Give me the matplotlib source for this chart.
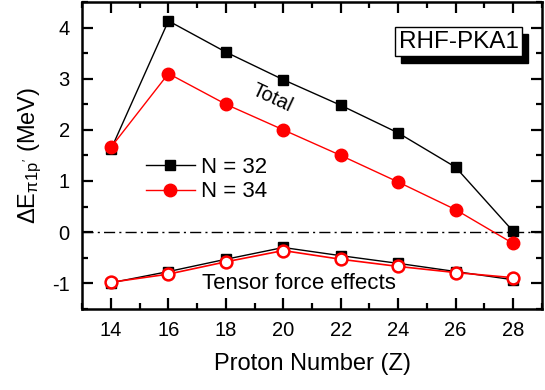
import numpy as np
import matplotlib.pyplot as plt
from matplotlib.ticker import MultipleLocator
from matplotlib.patches import Rectangle
from matplotlib.transforms import IdentityTransform

plt.rcParams['font.family'] = ['Liberation Sans', 'DejaVu Sans']
plt.rcParams['mathtext.fontset'] = 'custom'
plt.rcParams['mathtext.rm'] = 'Liberation Sans'
plt.rcParams['mathtext.it'] = 'Liberation Sans'
plt.rcParams['axes.unicode_minus'] = False

# данные
z = [14, 16, 18, 20, 22, 24, 26, 28]
total_n32 = [1.62, 4.13, 3.52, 2.98, 2.48, 1.94, 1.27, 0.02]
total_n34 = [1.66, 3.10, 2.50, 2.00, 1.50, 0.98, 0.44, -0.22]
tensor_n32 = [-0.99, -0.77, -0.53, -0.30, -0.46, -0.61, -0.77, -0.93]
tensor_n34 = [-0.98, -0.82, -0.58, -0.36, -0.53, -0.67, -0.79, -0.89]

fig = plt.figure(figsize=(5.45, 3.9), dpi=100)
ax = fig.add_axes([0.151, 0.208, 0.843, 0.787])

ax.axhline(0, color='black', lw=1, ls=(0, (8, 3, 1.5, 3)))

ax.plot(z, total_n32, '-s', color='black', lw=1, ms=7, label='N = 32')
ax.plot(z, total_n34, '-o', color='red', lw=1, ms=9, label='N = 34')
ax.plot(z, tensor_n32, '-s', color='black', lw=1, ms=7, zorder=3)
ax.plot(z, tensor_n34, '-o', color='red', lw=1.2, ms=8.5, mfc='white', mec='red', mew=1.8, zorder=4)

ax.set_xlim(13, 29)
ax.set_ylim(-1.5, 4.5)
ax.xaxis.set_major_locator(MultipleLocator(2))
ax.xaxis.set_minor_locator(MultipleLocator(1))
ax.yaxis.set_major_locator(MultipleLocator(1))
ax.yaxis.set_minor_locator(MultipleLocator(0.5))
ax.tick_params(which='both', direction='in', top=True, right=True, width=1.6)
ax.tick_params(which='major', length=8, labelsize=14.5, pad=9)
ax.tick_params(which='minor', length=4)
for s in ax.spines.values():
    s.set_linewidth(1.8)

ax.set_xlabel('Proton Number (Z)', fontsize=17, labelpad=9)
ax.set_ylabel(r"$\Delta$E$_{\pi 1p'}$ (MeV)", fontsize=17, labelpad=6)

ax.legend(loc='upper left', bbox_to_anchor=(0.095, 0.56), frameon=False,
          fontsize=16, handlelength=2.2, handletextpad=0.3, labelspacing=0.15)

ax.text(19.6, 2.62, 'Total', fontsize=14.5, rotation=-25, ha='center', va='center')
ax.text(20.55, -1.0, 'Tensor force effects', fontsize=16, ha='center', va='center')

# рамка с тенью
label = ax.text(26.1, 3.72, 'RHF-PKA1', fontsize=17.5, ha='center', va='center', zorder=7,
                bbox=dict(boxstyle='square,pad=0.15', fc='white', ec='black', lw=1))
fig.canvas.draw()
bb = label.get_bbox_patch().get_window_extent()
shadow = Rectangle((bb.x0 + 6, bb.y0 - 7), bb.width, bb.height,
                   fc='black', ec='black', zorder=5, clip_on=False)
ax.add_patch(shadow)
shadow.set_transform(IdentityTransform())

fig.savefig('out.png', dpi=100)
